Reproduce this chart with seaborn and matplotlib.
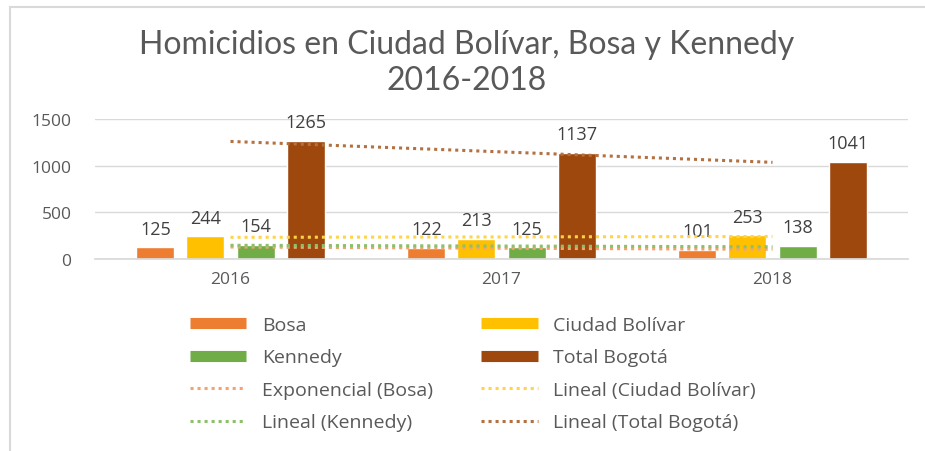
import numpy as np
import pandas as pd
import matplotlib
matplotlib.use("Agg")
import matplotlib.pyplot as plt
from matplotlib.lines import Line2D
import seaborn as sns

# Homicide counts per locality and year
years = ["2016", "2017", "2018"]
bosa = [125, 122, 101]
ciudad_bolivar = [244, 213, 253]
kennedy = [154, 125, 138]
total_bogota = [1265, 1137, 1041]

series_names = ["Bosa", "Ciudad Bolívar", "Kennedy", "Total Bogotá"]
series_values = [bosa, ciudad_bolivar, kennedy, total_bogota]
colors = ["#ED7D31", "#FFC000", "#70AD47", "#9E480E"]
trend_kind = ["Exponencial", "Lineal", "Lineal", "Lineal"]
trend_colors = ["#F4A26E", "#FFD447", "#8CC06A", "#B5703F"]

title = "Homicidios en Ciudad Bolívar, Bosa y Kennedy\n2016-2018"

rows = []
for name, vals in zip(series_names, series_values):
    for y, v in zip(years, vals):
        rows.append({"Año": y, "Serie": name, "Homicidios": v})
df = pd.DataFrame(rows)

sns.set_theme(style="white")
plt.rcParams["font.family"] = ["Open Sans", "DejaVu Sans"]

W, H = 925, 452
fig = plt.figure(figsize=(W / 100, H / 100), dpi=100)
ax = fig.add_axes([95 / W, 1 - 260 / H, (908 - 95) / W, (260 - 120) / H])

sns.barplot(data=df, x="Año", y="Homicidios", hue="Serie", hue_order=series_names,
            palette=colors, width=0.74, gap=0.24, saturation=1, ax=ax,
            legend=False, zorder=2)

text_gray = "#595959"
for cont in ax.containers:
    ax.bar_label(cont, labels=[f"{int(b.get_height())}" for b in cont],
                 padding=7, fontsize=13, color="#404040")

# Trend lines fitted over the three years
xs = np.arange(len(years))
for name, vals, kind, tc in zip(series_names, series_values, trend_kind, trend_colors):
    vals = np.asarray(vals, dtype=float)
    if kind == "Exponencial":
        b, a = np.polyfit(xs, np.log(vals), 1)
        fit = np.exp(a + b * xs)
    else:
        b, a = np.polyfit(xs, vals, 1)
        fit = a + b * xs
    ax.plot(xs, fit, color=tc, lw=2.2, linestyle=(0, (1, 1.3)), zorder=3)

ax.set_xlim(-0.5, 2.5)
ax.set_ylim(0, 1500)
ax.set_yticks([0, 500, 1000, 1500])
ax.yaxis.grid(True, color="#D9D9D9", lw=1)
ax.set_axisbelow(True)
for s in ["top", "right", "left"]:
    ax.spines[s].set_visible(False)
ax.spines["bottom"].set_color("#D9D9D9")
ax.set_xlabel("")
ax.set_ylabel("")
ax.tick_params(axis="both", length=0, labelsize=12.5, labelcolor=text_gray)
ax.tick_params(axis="y", pad=17)
ax.tick_params(axis="x", pad=9)

fig.text(467 / W, 1 - 63 / H, title, ha="center", va="center", fontsize=23,
         color="#595959", linespacing=1.25, family=["Lato", "DejaVu Sans"])

# Legend: bars as thick strokes, trends as dotted strokes
bar_h = {n: Line2D([], [], color=c, lw=8, solid_capstyle="butt") for n, c in zip(series_names, colors)}
trend_h = {n: Line2D([], [], color=c, lw=2.2, linestyle=(0, (1, 1.3)))
           for n, c in zip(series_names, trend_colors)}
col1 = [("bar", "Bosa"), ("bar", "Kennedy"), ("trend", "Bosa"), ("trend", "Kennedy")]
col2 = [("bar", "Ciudad Bolívar"), ("bar", "Total Bogotá"), ("trend", "Ciudad Bolívar"),
        ("trend", "Total Bogotá")]
kinds = dict(zip(series_names, trend_kind))
handles, labels = [], []
for kind, n in col1 + col2:
    if kind == "bar":
        handles.append(bar_h[n])
        labels.append(n)
    else:
        handles.append(trend_h[n])
        labels.append(f"{kinds[n]} ({n})")

leg = fig.legend(handles, labels, ncol=2, loc="upper left",
                 bbox_to_anchor=(180 / W, 1 - 307 / H), frameon=False,
                 fontsize=14, handlelength=2.9, handletextpad=0.8,
                 columnspacing=2.5, labelspacing=0.75, borderpad=0)
for t in leg.get_texts():
    t.set_color(text_gray)

# Light chart frame
fig.add_artist(Line2D([10 / W, 10 / W], [0, 1 - 8 / H], transform=fig.transFigure,
                      color="#D9D9D9", lw=1.5))
fig.add_artist(Line2D([10 / W, 1], [1 - 8 / H, 1 - 8 / H], transform=fig.transFigure,
                      color="#D9D9D9", lw=1.5))

fig.savefig("out.png", dpi=100)
